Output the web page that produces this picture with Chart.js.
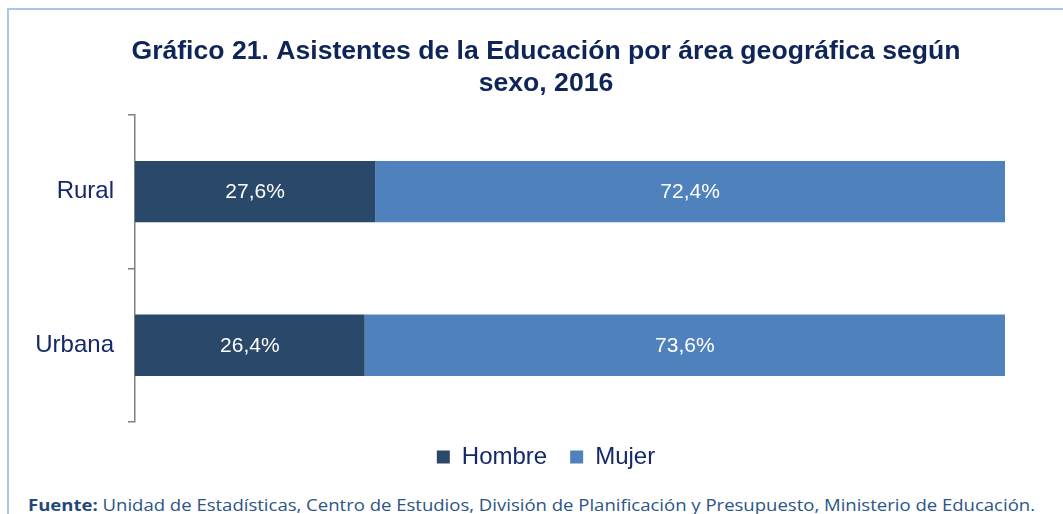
<!DOCTYPE html>
<html>
<head>
<meta charset="utf-8">
<script src="https://cdn.jsdelivr.net/npm/chart.js@4.4.1/dist/chart.umd.min.js"></script>
<style>
  html, body { margin: 0; padding: 0; background: #fff; width: 1063px; height: 514px; overflow: hidden; }
  #frame { position: absolute; left: 7px; top: 8px; width: 1056px; height: 506px;
           border-top: 2px solid #a9c6e8; border-left: 2px solid #a9c6e8; box-sizing: border-box; }
  #wrap { position: absolute; left: 0; top: 0; width: 1063px; height: 490px; }
  #footer { position: absolute; left: 28px; top: 494px; white-space: nowrap;
            font-family: "Open Sans", "Noto Sans", sans-serif; font-size: 16px; color: #2b5487;
            transform-origin: left top; }
  #footer b { color: #1f497d; }
</style>
</head>
<body>
<div id="frame"></div>
<div id="wrap"><canvas id="c" width="1063" height="490"></canvas></div>
<div id="footer"><b>Fuente:</b> Unidad de Estadísticas, Centro de Estudios, División de Planificación y Presupuesto, Ministerio de Educación.</div>
<script>
const categories = ["Rural", "Urbana"];
const hombre = [27.6, 26.4];
const mujer = [72.4, 73.6];
const seriesNames = ["Hombre", "Mujer"];
const titleLines = ["Gráfico 21. Asistentes de la Educación por área geográfica según", "sexo, 2016"];

const fmt = v => v.toFixed(1).replace('.', ',') + '%';

const labelPlugin = {
  id: 'barLabels',
  afterDatasetsDraw(chart) {
    const ctx = chart.ctx;
    ctx.save();
    ctx.fillStyle = '#ffffff';
    ctx.font = '21px "Liberation Sans", Arial, sans-serif';
    ctx.textAlign = 'center';
    ctx.textBaseline = 'middle';
    chart.data.datasets.forEach((ds, di) => {
      const meta = chart.getDatasetMeta(di);
      meta.data.forEach((bar, i) => {
        const p = bar.getProps(['x', 'y', 'base'], true);
        ctx.fillText(fmt(ds.data[i]), (p.x + p.base) / 2, p.y + 1);
      });
    });
    ctx.restore();
  }
};

new Chart(document.getElementById('c'), {
  type: 'bar',
  data: {
    labels: categories,
    datasets: [
      { label: seriesNames[0], data: hombre, backgroundColor: '#2a4869', borderWidth: 0 },
      { label: seriesNames[1], data: mujer, backgroundColor: '#4f81bd', borderWidth: 0 }
    ]
  },
  options: {
    indexAxis: 'y',
    responsive: false,
    animation: false,
    events: [],
    layout: { padding: { top: 20, right: 0, bottom: 11, left: 29 } },
    datasets: { bar: { categoryPercentage: 1.0, barPercentage: 0.4 } },
    scales: {
      x: { stacked: true, min: 0, max: 100, display: false },
      y: {
        stacked: true,
        afterFit(scale) { scale.width = 106; },
        border: { display: true, color: '#7f7f7f', width: 1.5 },
        grid: { display: true, offset: true, drawOnChartArea: false, drawTicks: true, tickLength: 7, color: '#7f7f7f', lineWidth: 1.5 },
        ticks: { color: '#14286a', font: { family: '"Liberation Sans", Arial, sans-serif', size: 24 }, padding: 14 }
      },
      yRight: {
        type: 'linear',
        position: 'right',
        display: true,
        afterFit(scale) { scale.width = 58; },
        border: { display: false },
        grid: { display: false },
        ticks: { display: false }
      }
    },
    plugins: {
      title: {
        display: true,
        text: titleLines,
        color: '#0f2557',
        font: { family: '"Liberation Sans", Arial, sans-serif', size: 26.6, weight: 'bold', lineHeight: 1.2 },
        padding: { top: 16, bottom: 15 }
      },
      legend: {
        display: true,
        position: 'bottom',
        labels: {
          boxWidth: 13, boxHeight: 13, padding: 23,
          color: '#14286a',
          font: { family: '"Liberation Sans", Arial, sans-serif', size: 24 }
        }
      },
      tooltip: { enabled: false }
    }
  },
  plugins: [labelPlugin]
});

const f = document.getElementById('footer');
const w = f.getBoundingClientRect().width;
f.style.transform = 'scaleX(' + (1007 / w) + ')';
</script>
</body>
</html>
